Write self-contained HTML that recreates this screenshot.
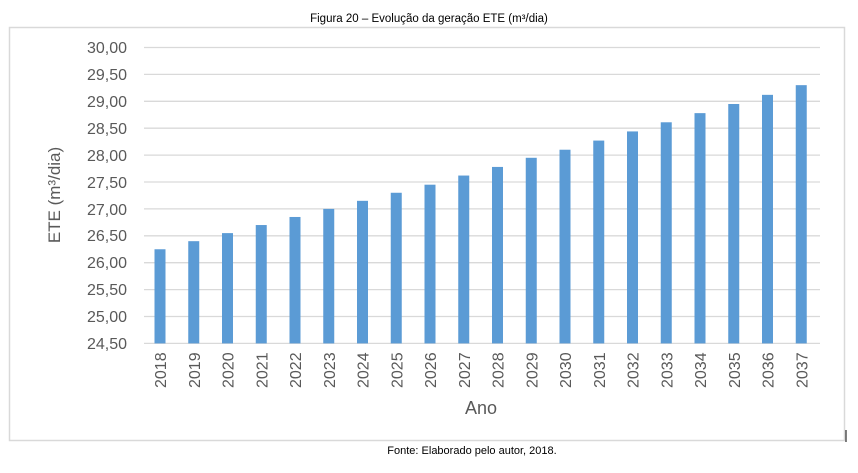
<!DOCTYPE html>
<html><head><meta charset="utf-8"><style>
body{margin:0;background:#fff;}
</style></head><body>
<svg width="858" height="468" xmlns="http://www.w3.org/2000/svg" font-family="Liberation Sans, sans-serif">
<rect x="0" y="0" width="858" height="468" fill="#fff"/>
<text x="429" y="22" font-size="11.5" text-anchor="middle" fill="#000">Figura 20 – Evolução da geração ETE (m³/dia)</text>
<rect x="9.5" y="27.5" width="835" height="413" fill="none" stroke="#d9d9d9" stroke-width="1.5"/>
<line x1="846" y1="430" x2="846" y2="442" stroke="#000" stroke-width="1"/>
<g stroke="#d9d9d9" stroke-width="1.3">
<line x1="144" x2="820" y1="47.5" y2="47.5"/><line x1="144" x2="820" y1="74.4" y2="74.4"/>
<line x1="144" x2="820" y1="101.3" y2="101.3"/><line x1="144" x2="820" y1="128.2" y2="128.2"/>
<line x1="144" x2="820" y1="155.1" y2="155.1"/><line x1="144" x2="820" y1="182" y2="182"/>
<line x1="144" x2="820" y1="208.9" y2="208.9"/><line x1="144" x2="820" y1="235.8" y2="235.8"/>
<line x1="144" x2="820" y1="262.7" y2="262.7"/><line x1="144" x2="820" y1="289.6" y2="289.6"/>
<line x1="144" x2="820" y1="316.5" y2="316.5"/><line x1="144" x2="820" y1="343.4" y2="343.4"/>
</g>
<g font-size="16" fill="#595959" text-anchor="end">
<text x="127" y="53">30,00</text><text x="127" y="80">29,50</text><text x="127" y="107">29,00</text>
<text x="127" y="134">28,50</text><text x="127" y="161">28,00</text><text x="127" y="188">27,50</text>
<text x="127" y="215">27,00</text><text x="127" y="241">26,50</text><text x="127" y="268">26,00</text>
<text x="127" y="295">25,50</text><text x="127" y="322">25,00</text><text x="127" y="349">24,50</text>
</g>
<text transform="translate(60,195) rotate(-90)" font-size="17" fill="#595959" text-anchor="middle">ETE (m³/dia)</text>
<text x="481" y="414" font-size="18" fill="#595959" text-anchor="middle">Ano</text>
<g id="bars" fill="#5b9bd5"></g>
<g id="labs" font-size="16" fill="#595959"></g>
<text x="472" y="454" font-size="11" text-anchor="middle" fill="#000">Fonte: Elaborado pelo autor, 2018.</text>
<script>
var vals=[26.25,26.40,26.55,26.70,26.85,27.00,27.15,27.30,27.45,27.62,27.78,27.95,28.10,28.27,28.44,28.61,28.78,28.95,29.12,29.30];
var b=document.getElementById('bars'),l=document.getElementById('labs'),ns="http://www.w3.org/2000/svg";
for(var i=0;i<20;i++){var cx=160+i*33.75,v=vals[i],y=343.4-(v-24.5)*53.8;
var r=document.createElementNS(ns,'rect');r.setAttribute('x',cx-5.5);r.setAttribute('y',y);r.setAttribute('width',11);r.setAttribute('height',343.4-y);b.appendChild(r);
var t=document.createElementNS(ns,'text');t.setAttribute('transform','translate('+(cx+6)+',388) rotate(-90)');t.textContent=2018+i;l.appendChild(t);}
</script>
</svg>
</body></html>
